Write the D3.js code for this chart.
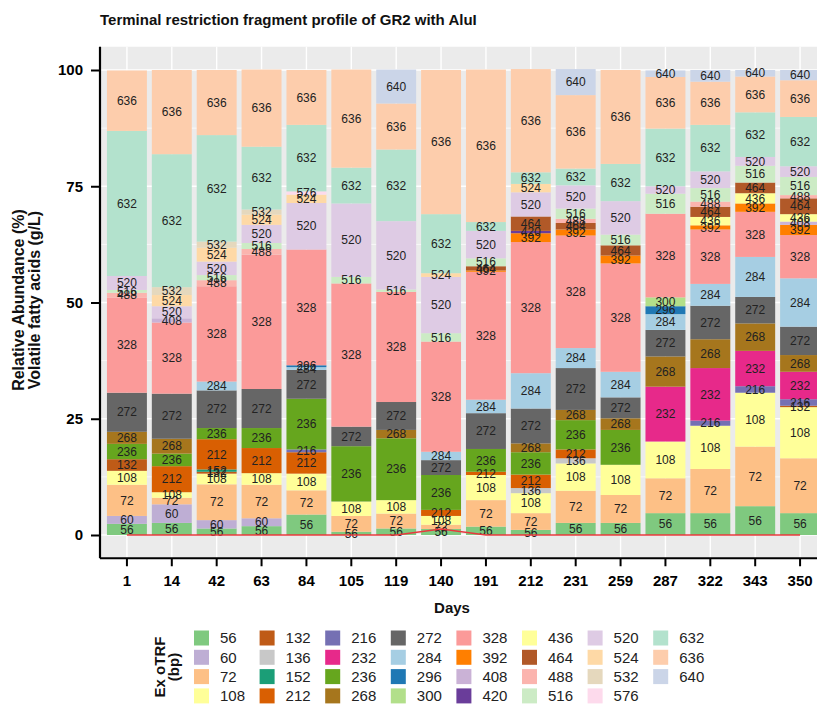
<!DOCTYPE html>
<html>
<head>
<meta charset="utf-8">
<script src="https://cdn.jsdelivr.net/npm/d3@7"></script>
<style>
  body { margin: 0; background: #fff; }
  svg text { font-family: "Liberation Sans", Arial, Helvetica, sans-serif; }
</style>
</head>
<body>
<svg id="chart" width="817" height="705"></svg>
<script>
// Sampling days (x categories)
const days = ["1", "14", "42", "63", "84", "105", "119", "140", "191", "212", "231", "259", "287", "322", "343", "350"];

// Terminal restriction fragment sizes (bp), stacked bottom to top
const fragments = ["56", "60", "72", "108", "132", "136", "152", "212", "216", "232", "236", "268", "272", "284", "296", "300",
                   "328", "392", "408", "420", "436", "464", "488", "516", "520", "524", "532", "576", "632", "636", "640"];

const fragmentColors = ["#7FC97F", "#BEAED4", "#FDC086", "#FFFF99", "#BF5B17", "#C8C8C8", "#1B9E77", "#D95F02", "#7570B3", "#E7298A",
                        "#66A61E", "#A6761D", "#666666", "#A6CEE3", "#1F78B4", "#B2DF8A", "#FB9A99", "#FF7F00", "#CAB2D6", "#6A3D9A",
                        "#FFFF99", "#B15928", "#FBB4AE", "#CCEBC5", "#DECBE4", "#FED9A6", "#E5D8BD", "#FDDAEC", "#B3E2CD", "#FDCDAC", "#CBD5E8"];

// Relative abundance (%) of each fragment, one row per fragment, one value per day
const abundance = [
  /* 56 */  [2.4, 2.6, 1.4, 1.9, 4.4, 0.7, 1.4, 1.3, 1.8, 1.1, 2.6, 2.6, 4.7, 4.7, 6.2, 4.7],
  /* 60 */  [1.7, 4.0, 1.8, 1.7, 0, 0, 0, 0, 0, 0, 0, 0, 0, 0, 0, 0],
  /* 72 */  [6.7, 1.4, 7.7, 7.2, 5.2, 3.4, 3.2, 0.9, 5.7, 3.6, 6.9, 6.0, 7.5, 9.5, 12.8, 11.8],
  /* 108 */ [3.0, 1.2, 2.3, 2.5, 3.6, 3.1, 2.9, 1.9, 5.4, 4.3, 5.9, 6.5, 7.9, 9.3, 11.6, 11.0],
  /* 132 */ [2.5, 0, 0.4, 0, 0, 0, 0, 0, 0, 0, 0, 0, 0, 0, 0, 0.3],
  /* 136 */ [0, 0, 0, 0, 0, 0, 0, 0, 0, 1.1, 1.1, 0, 0, 0, 0, 0],
  /* 152 */ [0, 0, 0.5, 0, 0, 0, 0, 0, 0, 0, 0, 0, 0, 0, 0, 0],
  /* 212 */ [0, 5.6, 6.5, 5.4, 4.6, 0, 0, 1.3, 0.7, 2.9, 1.9, 0, 0, 0, 0, 0],
  /* 216 */ [0, 0, 0, 0, 0.6, 0, 0, 0, 0, 0, 0, 0, 0, 1.1, 1.4, 1.4],
  /* 232 */ [0, 0, 0, 0, 0, 0, 0, 0, 0, 0, 0, 0, 11.8, 11.3, 7.6, 5.9],
  /* 236 */ [3.3, 2.7, 2.4, 4.3, 10.9, 11.9, 13.3, 7.5, 4.9, 4.8, 6.3, 7.5, 0, 0, 0, 0],
  /* 268 */ [2.6, 3.2, 0, 0, 0, 0, 1.8, 0, 0, 1.9, 2.2, 2.5, 6.5, 6.2, 5.9, 3.6],
  /* 272 */ [8.4, 9.7, 8.1, 8.4, 6.2, 4.2, 6.0, 3.2, 7.7, 7.5, 9.0, 4.5, 5.7, 7.2, 5.7, 6.1],
  /* 284 */ [0, 0, 1.9, 0, 0.6, 0, 0, 1.8, 2.9, 7.6, 4.3, 5.5, 3.4, 4.7, 8.6, 10.4],
  /* 296 */ [0, 0, 0, 0, 0.4, 0, 0, 0, 0, 0, 0, 0, 1.7, 0, 0, 0],
  /* 300 */ [0, 0, 0, 0, 0, 0, 0, 0, 0, 0, 0, 0, 1.9, 0, 0, 0],
  /* 328 */ [20.4, 15.3, 20.5, 28.9, 24.9, 30.8, 23.7, 23.7, 27.5, 28.2, 24.2, 23.3, 18.0, 11.7, 9.7, 9.3],
  /* 392 */ [0, 0, 0, 0, 0, 0, 0, 0, 0.3, 1.9, 1.3, 1.7, 0, 0.9, 1.8, 2.2],
  /* 408 */ [0, 0.9, 0, 0, 0, 0, 0, 0, 0, 0, 0, 0, 0, 0, 0, 0.7],
  /* 420 */ [0, 0, 0, 0, 0, 0, 0, 0, 0, 0.5, 0, 0, 0, 0, 0, 0],
  /* 436 */ [0, 0, 0, 0, 0, 0, 0, 0, 0, 0, 0, 0, 0, 1.8, 2.2, 1.6],
  /* 464 */ [0, 0, 0, 0, 0, 0, 0, 0, 0.9, 3.1, 1.4, 2.2, 0, 2.2, 2.3, 3.4],
  /* 488 */ [1.1, 0, 1.3, 1.2, 0, 0, 0, 0, 0, 0, 0.9, 0, 0, 1.1, 0, 0.7],
  /* 516 */ [0.6, 0, 1.1, 1.3, 0, 1.4, 0.5, 1.8, 1.7, 0, 2.2, 2.3, 4.3, 2.9, 3.6, 3.9],
  /* 520 */ [3.0, 2.6, 2.9, 3.9, 10.0, 15.8, 14.7, 12.1, 5.9, 5.2, 5.0, 7.2, 1.6, 3.6, 1.9, 2.3],
  /* 524 */ [0, 2.4, 3.0, 2.2, 1.8, 0, 0, 0.8, 0, 1.8, 0, 0, 0, 0, 0, 0],
  /* 532 */ [0, 1.7, 1.3, 1.1, 0, 0, 0, 0, 0, 0, 0, 0, 0, 0, 0, 0],
  /* 576 */ [0, 0, 0, 0, 0.7, 0, 0, 0, 0, 0, 0, 0, 0, 0, 0, 0],
  /* 632 */ [31.2, 28.6, 22.9, 13.5, 14.3, 7.7, 15.4, 12.7, 1.9, 2.5, 3.6, 8.0, 12.4, 10.0, 9.6, 10.6],
  /* 636 */ [13.0, 18.1, 14.0, 16.6, 11.8, 21.1, 9.9, 31.0, 32.8, 22.2, 15.8, 20.2, 11.1, 9.3, 7.7, 7.9],
  /* 640 */ [0, 0, 0, 0, 0, 0, 7.3, 0, 0, 0, 5.6, 0, 1.4, 2.5, 1.4, 2.2]
];

// Volatile fatty acids (g/L) per day
const vfa = [0, 0, 0, 0, 0, 0, 0, 1.3, 0, 0, 0, 0, 0, 0, 0, 0];

const yTicks = [0, 25, 50, 75, 100];
const yMinorTicks = [12.5, 37.5, 62.5, 87.5];

const svg = d3.select("#chart");
const panel = { left: 100, right: 827, top: 46.75, bottom: 558.25 };

const x = d3.scaleBand().domain(days).range([panel.left, panel.right])
  .paddingInner(0.11).paddingOuter(0.155);
const y = d3.scaleLinear().domain([-5, 105]).range([panel.bottom, panel.top]);
const color = d3.scaleOrdinal().domain(fragments).range(fragmentColors);

// Table for the stack layout
const table = days.map((d, j) => {
  const row = { day: d };
  fragments.forEach((f, i) => { row[f] = abundance[i][j]; });
  return row;
});
const series = d3.stack().keys(fragments).order(d3.stackOrderNone).offset(d3.stackOffsetNone)(table);

// Panel background and grid
svg.append("rect").attr("x", panel.left).attr("y", panel.top)
  .attr("width", panel.right - panel.left).attr("height", panel.bottom - panel.top)
  .attr("fill", "#EBEBEB");

const grid = svg.append("g");
grid.selectAll(".minor").data(yMinorTicks).join("line")
  .attr("x1", panel.left).attr("x2", panel.right)
  .attr("y1", d => y(d)).attr("y2", d => y(d))
  .attr("stroke", "#fff").attr("stroke-width", 0.7);
grid.selectAll(".major").data(yTicks).join("line")
  .attr("x1", panel.left).attr("x2", panel.right)
  .attr("y1", d => y(d)).attr("y2", d => y(d))
  .attr("stroke", "#fff").attr("stroke-width", 1.4);
grid.selectAll(".vmajor").data(days).join("line")
  .attr("x1", d => x(d) + x.bandwidth() / 2).attr("x2", d => x(d) + x.bandwidth() / 2)
  .attr("y1", panel.top).attr("y2", panel.bottom)
  .attr("stroke", "#fff").attr("stroke-width", 1.4);

// Stacked bars
const layers = svg.append("g").selectAll("g").data(series).join("g")
  .attr("fill", s => color(s.key));
layers.selectAll("rect").data(s => s.filter(d => d[1] - d[0] > 0)).join("rect")
  .attr("x", d => x(d.data.day))
  .attr("width", x.bandwidth())
  .attr("y", d => y(d[1]))
  .attr("height", d => y(d[0]) - y(d[1]));

// Segment labels
const labels = svg.append("g").attr("font-size", 12).attr("fill", "#222").attr("text-anchor", "middle");
series.forEach(s => {
  s.forEach(d => {
    if (d[1] - d[0] > 0) {
      labels.append("text")
        .attr("x", x(d.data.day) + x.bandwidth() / 2)
        .attr("y", y((d[0] + d[1]) / 2))
        .attr("dy", "0.35em")
        .text(s.key);
    }
  });
});

// Volatile fatty acid line
const line = d3.line().x((d, i) => x(days[i]) + x.bandwidth() / 2).y(d => y(d));
svg.append("path").datum(vfa).attr("d", line)
  .attr("fill", "none").attr("stroke", "#E8383D").attr("stroke-width", 1.5);

// Axes
const yAxis = svg.append("g").attr("transform", `translate(${panel.left},0)`)
  .call(d3.axisLeft(y).tickValues(yTicks).tickSize(9).tickPadding(8));
const xAxis = svg.append("g").attr("transform", `translate(0,${panel.bottom})`)
  .call(d3.axisBottom(x).tickSize(8).tickPadding(9));
[yAxis, xAxis].forEach(a => {
  a.select(".domain").attr("stroke", "#000").attr("stroke-width", 2.2);
  a.selectAll(".tick line").attr("stroke", "#000").attr("stroke-width", 2);
  a.selectAll(".tick text").attr("fill", "#000").attr("font-size", 15).attr("font-weight", "bold")
    .attr("font-family", "'Liberation Sans', Arial, sans-serif");
});
yAxis.select(".domain").attr("d", `M0,${panel.top}V${panel.bottom}`);
xAxis.select(".domain").attr("d", `M${panel.left},0H${panel.right}`);

// Titles
svg.append("text").attr("x", panel.left).attr("y", 25)
  .attr("font-size", 15).attr("font-weight", "bold").attr("fill", "#111")
  .text("Terminal restriction fragment profile of GR2 with AluI");
svg.append("text").attr("x", 452).attr("y", 613).attr("text-anchor", "middle")
  .attr("font-size", 15).attr("font-weight", "bold").attr("fill", "#111")
  .text("Days");
const yTitle = svg.append("g").attr("transform", "translate(0,300) rotate(-90)");
yTitle.append("text").attr("x", 0).attr("y", 24).attr("text-anchor", "middle")
  .attr("font-size", 16).attr("font-weight", "bold").attr("fill", "#111")
  .text("Relative Abundance (%)");
yTitle.append("text").attr("x", 0).attr("y", 40).attr("text-anchor", "middle")
  .attr("font-size", 16).attr("font-weight", "bold").attr("fill", "#111")
  .text("Volatile fatty acids (g/L)");

// Legend
const legend = svg.append("g");
const lgTitle = legend.append("g").attr("transform", "translate(0,667) rotate(-90)");
lgTitle.append("text").attr("x", 0).attr("y", 165).attr("text-anchor", "middle")
  .attr("font-size", 15).attr("font-weight", "bold").attr("fill", "#111").text("Ex oTRF");
lgTitle.append("text").attr("x", 0).attr("y", 179).attr("text-anchor", "middle")
  .attr("font-size", 15).attr("font-weight", "bold").attr("fill", "#111").text("(bp)");

const keySize = 15, colStep = 65.6, rowStep = 19.3, keyX0 = 194, keyY0 = 638;
const items = legend.selectAll(".item").data(fragments).join("g")
  .attr("transform", (d, i) => `translate(${keyX0 + Math.floor(i / 4) * colStep},${keyY0 + (i % 4) * rowStep})`);
items.append("rect").attr("x", 0).attr("y", -keySize / 2)
  .attr("width", keySize).attr("height", keySize).attr("fill", d => color(d));
items.append("text").attr("x", 26).attr("y", 0).attr("dy", "0.36em")
  .attr("font-size", 15).attr("fill", "#222").text(d => d);
</script>
</body>
</html>
